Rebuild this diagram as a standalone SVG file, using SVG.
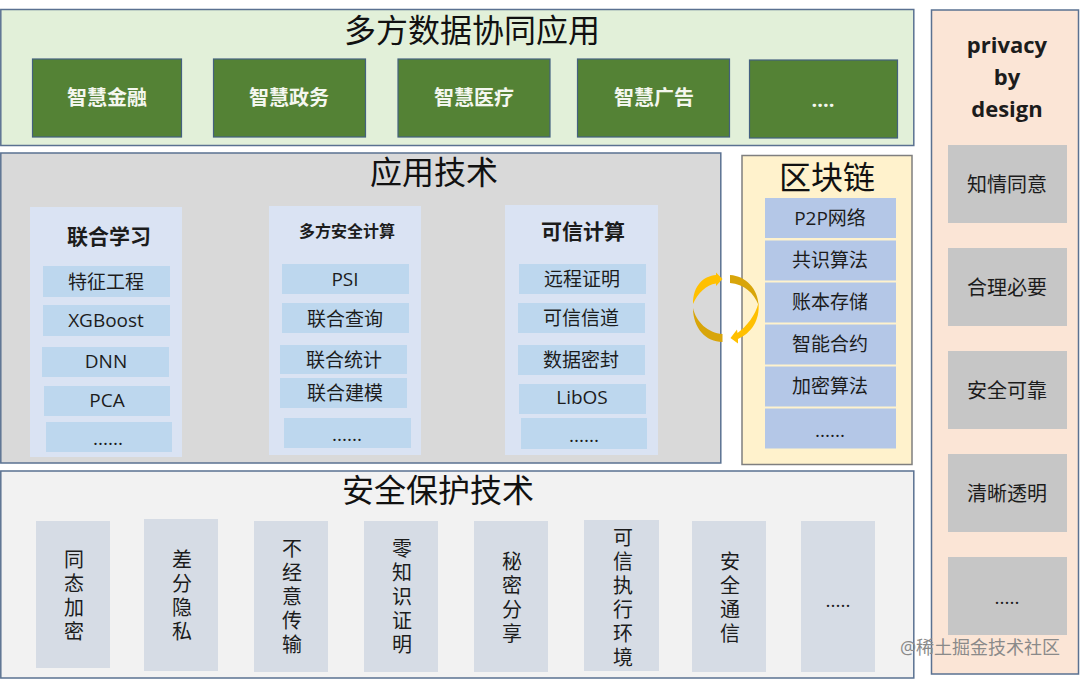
<svg xmlns="http://www.w3.org/2000/svg" width="1080" height="679" viewBox="0 0 1080 679">
<style>
text{font-family:"Open Sans","Noto Sans CJK SC",sans-serif;text-anchor:middle;fill:#1c1c1c}
.panel{stroke:#5a7191;stroke-width:1.5}
.h{font-size:32px;fill:#111;font-family:"Noto Sans CJK SC",sans-serif}
.g{fill:#548235;stroke:#44617f;stroke-width:1.2}
.gt{fill:#f4f7ef;font-size:20px;font-weight:bold}
.col{fill:#dae3f3}
.item{fill:#bdd7ee}
.t{font-size:19px}
.pt{font-size:20px}
.v{font-size:20px;writing-mode:vertical-rl;letter-spacing:4px}
.chain{fill:#b4c7e7}
.sec{fill:#d6dce5}
.p{fill:#c6c6c6}
.b{font-weight:bold}
</style>
<g id="top-panel">
<rect class="panel" x="0.800" y="9.500" width="913" height="136" fill="#e2f0d9"/>
<text class="h" x="472" y="42">多方数据协同应用</text>
</g>
<g id="n-finance"><rect class="g" x="32.500" y="59" width="149" height="78"/><text class="gt" x="107" y="105">智慧金融</text></g>
<g id="n-gov"><rect class="g" x="213.500" y="59" width="152" height="78"/><text class="gt" x="289" y="105">智慧政务</text></g>
<g id="n-med"><rect class="g" x="398" y="59" width="152" height="78"/><text class="gt" x="474" y="105">智慧医疗</text></g>
<g id="n-ad"><rect class="g" x="577.500" y="59" width="152" height="78"/><text class="gt" x="654" y="105">智慧广告</text></g>
<g id="n-more"><rect class="g" x="749.500" y="60" width="148" height="78"/><text class="gt" x="823" y="107">....</text></g>

<g id="app-panel">
<rect class="panel" x="0.800" y="153" width="720" height="310" fill="#d9d9d9"/>
<text class="h" x="434" y="184">应用技术</text>
</g>
<g id="col-fl">
<rect class="col" x="30" y="207" width="152" height="250"/>
<text x="109" y="244" font-size="21" class="b">联合学习</text>
<rect class="item" x="43" y="266" width="127" height="31"/><text class="t" x="106" y="289">特征工程</text>
<rect class="item" x="43" y="305" width="127" height="31"/><text class="t" x="106" y="327">XGBoost</text>
<rect class="item" x="42" y="347" width="127" height="30"/><text class="t" x="106" y="368">DNN</text>
<rect class="item" x="44" y="386" width="126" height="30"/><text class="t" x="107" y="407">PCA</text>
<rect class="item" x="46" y="422" width="126" height="30"/><text class="t" x="108" y="445">......</text>
</g>
<g id="col-mpc">
<rect class="col" x="269" y="206" width="152" height="249"/>
<text x="347" y="237" font-size="16" class="b">多方安全计算</text>
<rect class="item" x="282" y="264" width="127" height="30"/><text class="t" x="345" y="286">PSI</text>
<rect class="item" x="282" y="303" width="127" height="30"/><text class="t" x="345" y="326">联合查询</text>
<rect class="item" x="280" y="345" width="127" height="29"/><text class="t" x="344" y="367">联合统计</text>
<rect class="item" x="280" y="378" width="127" height="30"/><text class="t" x="345" y="400">联合建模</text>
<rect class="item" x="284" y="418" width="127" height="30"/><text class="t" x="347" y="441">......</text>
</g>
<g id="col-tee">
<rect class="col" x="505" y="205" width="153" height="250"/>
<text x="583" y="239" font-size="21" class="b">可信计算</text>
<rect class="item" x="519" y="264" width="127" height="30"/><text class="t" x="582" y="286">远程证明</text>
<rect class="item" x="518" y="303" width="127" height="30"/><text class="t" x="581" y="325">可信信道</text>
<rect class="item" x="518" y="345" width="127" height="30"/><text class="t" x="581" y="367">数据密封</text>
<rect class="item" x="519" y="384" width="127" height="30"/><text class="t" x="582" y="404">LibOS</text>
<rect class="item" x="521" y="418" width="126" height="31"/><text class="t" x="584" y="442">......</text>
</g>

<g id="chain-panel">
<rect x="742" y="155.500" width="170" height="309" fill="#fff2cc" stroke="#7f7f7f" stroke-width="1.5"/>
<text class="h" x="827" y="189">区块链</text>
<rect class="chain" x="765" y="198" width="131" height="40"/><text class="t" x="830" y="225">P2P网络</text>
<rect class="chain" x="765" y="240.500" width="131" height="40"/><text class="t" x="830" y="267">共识算法</text>
<rect class="chain" x="765" y="282.500" width="131" height="40"/><text class="t" x="830" y="309">账本存储</text>
<rect class="chain" x="765" y="324.500" width="131" height="40"/><text class="t" x="830" y="351">智能合约</text>
<rect class="chain" x="765" y="366.500" width="131" height="40"/><text class="t" x="830" y="393">加密算法</text>
<rect class="chain" x="765" y="408.500" width="131" height="40"/><text class="t" x="830" y="437">......</text>
</g>

<g id="connectors">
<path d="M693 304 C693 285 704 276 716 275 L716 272.500 L722.500 279 L716 286 L716 283.500 C706 285 698 293 693 304Z" fill="#ffc000"/>
<path d="M693 308 C696 322 708 333 722.500 334 L722.500 342 C706 342 693 328 693 308Z" fill="#d8a50a"/>
<path d="M730 275 L730 283 C744 284 754 293 758.500 305 C758 289 746 276 730 275Z" fill="#d8a50a"/>
<path d="M758.500 303 C760 321 751 333 738 339 L738 343.500 L730.500 338 L737 329.500 L737.500 333 C747 326 755 316 758.500 303Z" fill="#ffc000"/>
</g>

<g id="sec-panel">
<rect class="panel" x="0.800" y="471" width="913" height="207" fill="#f2f2f2"/>
<text class="h" x="438" y="502">安全保护技术</text>
</g>
<g id="s1"><rect class="sec" x="36" y="521" width="74" height="147"/><text class="v" x="73" y="597">同态加密</text></g>
<g id="s2"><rect class="sec" x="144" y="519" width="74" height="152"/><text class="v" x="181" y="597">差分隐私</text></g>
<g id="s3"><rect class="sec" x="254" y="521" width="74" height="151"/><text class="v" x="291" y="598">不经意传输</text></g>
<g id="s4"><rect class="sec" x="364" y="521" width="74" height="151"/><text class="v" x="401" y="598">零知识证明</text></g>
<g id="s5"><rect class="sec" x="474" y="521" width="74" height="151"/><text class="v" x="511" y="599">秘密分享</text></g>
<g id="s6"><rect class="sec" x="584" y="520" width="75" height="151"/><text class="v" x="622" y="599">可信执行环境</text></g>
<g id="s7"><rect class="sec" x="692" y="521" width="74" height="151"/><text class="v" x="729" y="599">安全通信</text></g>
<g id="s8"><rect class="sec" x="801" y="521" width="74" height="151"/><text class="t" x="838" y="607">.....</text></g>

<g id="privacy-panel">
<rect class="panel" x="931.500" y="10" width="147" height="664" fill="#fbe5d6"/>
<text class="b" font-size="22" y="53"><tspan x="1007">privacy</tspan><tspan x="1007" dy="32">by</tspan><tspan x="1007" dy="32">design</tspan></text>
</g>
<g id="p1"><rect class="p" x="948" y="145" width="119" height="78"/><text class="pt" x="1007" y="192">知情同意</text></g>
<g id="p2"><rect class="p" x="948" y="248" width="119" height="78"/><text class="pt" x="1007" y="295">合理必要</text></g>
<g id="p3"><rect class="p" x="948" y="351" width="119" height="78"/><text class="pt" x="1007" y="398">安全可靠</text></g>
<g id="p4"><rect class="p" x="948" y="454" width="119" height="78"/><text class="pt" x="1007" y="501">清晰透明</text></g>
<g id="p5"><rect class="p" x="948" y="557" width="119" height="78"/><text class="t" x="1007" y="604">.....</text></g>
<text x="980" y="654" font-size="18" style="fill:#8a8a8a">@稀土掘金技术社区</text>
</svg>
